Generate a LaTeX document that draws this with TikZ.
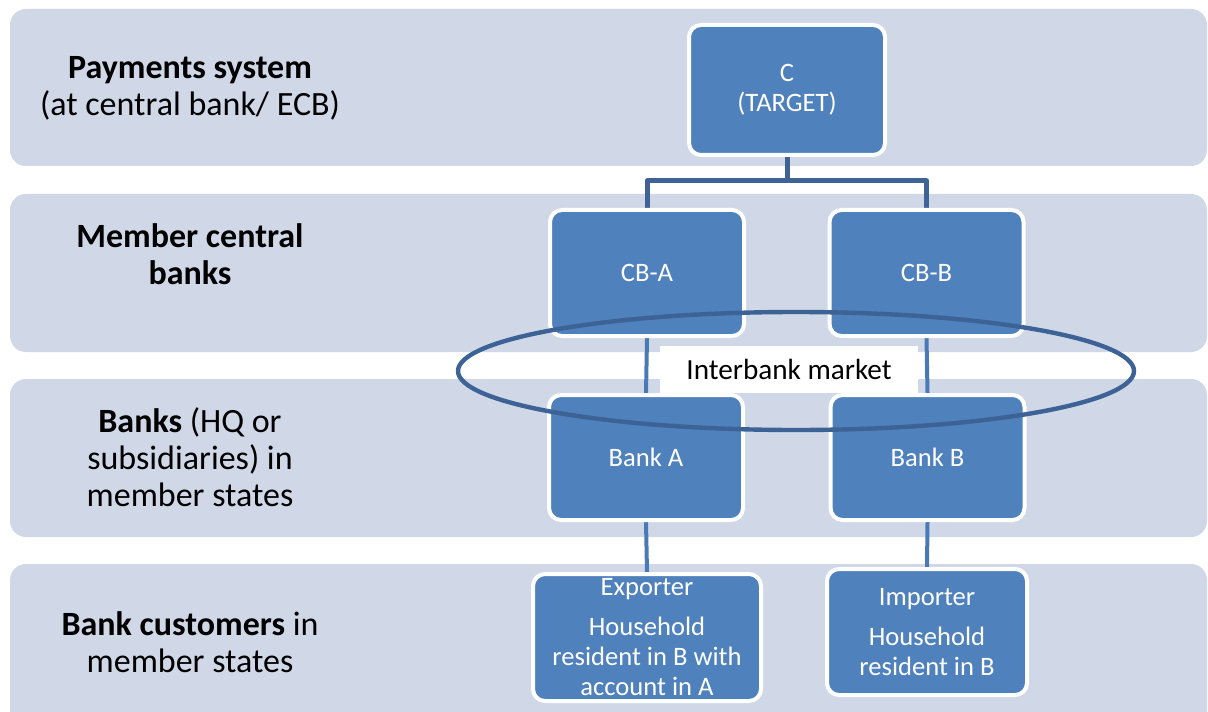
\documentclass[tikz,border=0pt]{standalone}
\usepackage{fontspec}
\setmainfont{Carlito}
\pgfdeclarelayer{bg}
\pgfdeclarelayer{mid}
\pgfsetlayers{bg,mid,main}
\definecolor{bandc}{HTML}{D0D8E8}
\definecolor{boxc}{HTML}{4F81BD}
\definecolor{connc}{HTML}{3E6394}
\definecolor{linec}{HTML}{4A7AB5}
\definecolor{ellc}{HTML}{3D6296}
\tikzset{
  band/.style={fill=bandc, rounded corners=8pt},
  blk/.style={fill=boxc, draw=white, line width=2pt, rounded corners=6pt, text=white,
    font=\fontsize{13.3}{15}\selectfont, align=center, inner sep=0pt},
  lab/.style={font=\fontsize{17}{18.5}\selectfont, align=center, text=black},
  conn/.style={draw=connc, line width=2.5pt},
  conn2/.style={draw=linec, line width=2pt},
  ib/.style={fill=white, text=black, font=\fontsize{14.6}{15}\selectfont, inner sep=0pt},
  ell/.style={draw=ellc, line width=2.2pt},
}
\begin{document}
\begin{tikzpicture}[x=0.5pt, y=-0.5pt]
\useasboundingbox (0,0) rectangle (1208,711);
\clip (0,0) rectangle (1208,711);
\begin{pgfonlayer}{bg}
\fill[white] (0,0) rectangle (1208,711);
% bands
\fill[band] (10,9) rectangle (1207,166);
\fill[band] (10,194) rectangle (1207,352);
\fill[band] (10,379) rectangle (1207,537);
\fill[band] (10,564) rectangle (1207,760);
\end{pgfonlayer}
% left labels
\node[lab] (L1) at (190,88) {\textbf{Payments system}\\(at central bank/ ECB)};
\node[lab] (L2) at (190,254) {\textbf{Member central}\\\textbf{banks}};
\node[lab] (L3) at (190,457) {\textbf{Banks} (HQ or\\subsidiaries) in\\member states};
\node[lab] (L4) at (190,642) {\textbf{Bank customers} in\\member states};
% boxes
\node[blk, minimum width=98pt, minimum height=65pt] (C) at (787,90) {C\\(TARGET)};
\node[blk, minimum width=97pt, minimum height=63pt] (CBA) at (647,273) {CB-A};
\node[blk, minimum width=97pt, minimum height=63pt] (CBB) at (926.5,273) {CB-B};
\node[blk, minimum width=97pt, minimum height=62.5pt] (BA) at (646,457.5) {Bank A};
\node[blk, minimum width=97pt, minimum height=62.5pt] (BB) at (927.5,457.5) {Bank B};
\node[blk, minimum width=114pt, minimum height=63.5pt] (EX) at (647,637.5) {Exporter\\[5pt]Household\\resident in B with\\account in A};
\node[blk, minimum width=100pt, minimum height=63pt] (IM) at (927,632) {Importer\\[5pt]Household\\resident in B};
% connectors (behind boxes)
\coordinate (J) at (787,181);
\begin{pgfonlayer}{mid}
\draw[conn, line join=round] (C.south) -- (J) -| (CBA.north);
\draw[conn, line join=round] (J) -| (CBB.north);
\draw[conn2] (CBA.south) -- (BA.north);
\draw[conn2] (CBB.south) -- (BB.north);
\draw[conn2] (BA.south) -- (EX.north);
\draw[conn2] (BB.south) -- (IM.north);
\end{pgfonlayer}
% interbank market
\node[ib, minimum width=129pt, minimum height=23.5pt] (IB) at (789,369) {Interbank market\hspace{5pt}};
\draw[ell] (796,371) ellipse [x radius=169pt, y radius=29.5pt];
\end{tikzpicture}
\end{document}
